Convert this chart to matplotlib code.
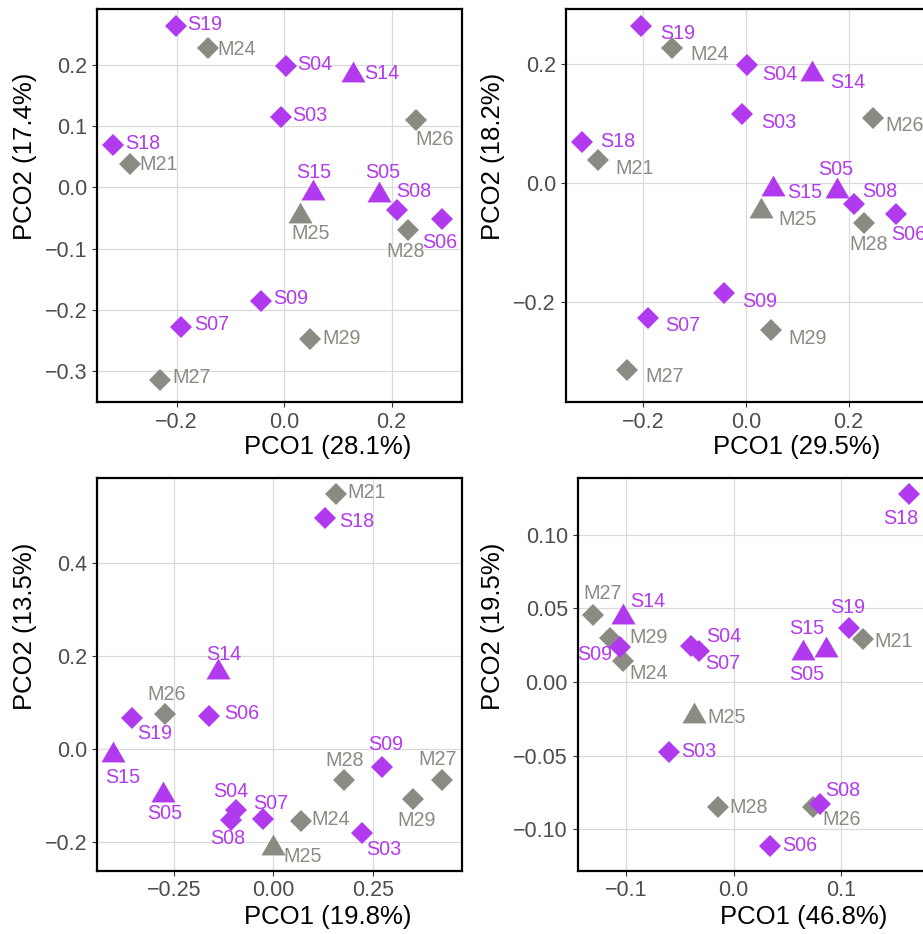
import numpy as np
import matplotlib
matplotlib.use("Agg")
import matplotlib.pyplot as plt
from matplotlib.ticker import FixedLocator, FuncFormatter

plt.rcParams['font.family'] = ['Liberation Sans', 'DejaVu Sans']

# sample names (same order in every panel)
samples = ["S03", "S04", "S05", "S06", "S07", "S08", "S09", "S14", "S15", "S18", "S19",
           "M21", "M24", "M25", "M26", "M27", "M28", "M29"]
triangles = ["S05", "S14", "S15", "M25"]

# panel A
pco1_a = [-0.006, 0.004, 0.176, 0.293, -0.191, 0.211, -0.042, 0.129, 0.053, -0.318, -0.201,
          -0.286, -0.142, 0.030, 0.246, -0.230, 0.230, 0.049]
pco2_a = [0.116, 0.199, -0.013, -0.052, -0.228, -0.037, -0.185, 0.184, -0.009, 0.069, 0.264,
          0.039, 0.229, -0.047, 0.110, -0.315, -0.069, -0.248]
# panel B
pco1_b = [-0.007, 0.003, 0.177, 0.293, -0.191, 0.211, -0.0435, 0.129, 0.052, -0.319, -0.204,
          -0.289, -0.1435, 0.029, 0.247, -0.232, 0.231, 0.048]
pco2_b = [0.115, 0.197, -0.014, -0.052, -0.227, -0.036, -0.185, 0.182, -0.010, 0.069, 0.264,
          0.038, 0.227, -0.048, 0.109, -0.315, -0.068, -0.248]
# panel C
pco1_c = [0.224, -0.094, -0.276, -0.161, -0.025, -0.107, 0.273, -0.140, -0.403, 0.130, -0.355,
          0.157, 0.069, 0.000, -0.273, 0.424, 0.178, 0.351]
pco2_c = [-0.181, -0.132, -0.100, 0.071, -0.151, -0.153, -0.039, 0.164, -0.014, 0.495, 0.065,
          0.547, -0.156, -0.214, 0.075, -0.067, -0.067, -0.108]
# panel D
pco1_d = [-0.0607, -0.040, 0.086, 0.0343, -0.032, 0.0804, -0.106, -0.103, 0.065, 0.164, 0.1075,
          0.1206, -0.103, -0.0368, 0.0738, -0.131, -0.0146, -0.115]
pco2_d = [-0.0473, 0.0247, 0.022, -0.1112, 0.021, -0.0829, 0.0236, 0.044, 0.0195, 0.1275, 0.0365,
          0.0292, 0.0143, -0.0229, -0.0847, 0.0455, -0.0847, 0.030]

pct1 = ["28.1%", "29.5%", "19.8%", "46.8%"]
pct2 = ["17.4%", "18.2%", "13.5%", "19.5%"]

# label offsets in pixels (right, up), copied from the repel layout
off_a = {"S19": (29, 2), "M24": (29, -2), "S04": (29, 1), "S14": (28, 2), "S03": (29, 1),
         "M26": (18, -19), "S18": (30, 2), "M21": (28, -1), "S15": (1, 20), "S05": (4, 23),
         "M25": (10, -17), "S08": (16, 19), "S06": (-2, -23), "M28": (-2, -22), "S09": (29, 2),
         "S07": (30, 2), "M29": (31, 1), "M27": (31, 2)}
off_b = {"S19": (36, -8), "M24": (37, -7), "S04": (32, -9), "S14": (36, -8), "S03": (36, -8),
         "M26": (32, -8), "S18": (36, 0), "M21": (37, -8), "S15": (32, -4), "S05": (-1, 21),
         "M25": (37, -8), "S08": (25, 13), "S06": (12, -21), "M28": (4, -21), "S09": (36, -9),
         "S07": (35, -8), "M29": (37, -8), "M27": (38, -7)}
off_c = {"M21": (31, 2), "S18": (32, -3), "S14": (6, 18), "M26": (2, 19), "S19": (23, -15),
         "S06": (32, 2), "S15": (10, -22), "S05": (1, -18), "S04": (-5, 19), "S08": (-3, -19),
         "S07": (7, 16), "M24": (30, 2), "M25": (29, -8), "S03": (21, -17), "M28": (0, 19),
         "S09": (4, 22), "M29": (4, -21), "M27": (-4, 20)}
off_d = {"S18": (-9, -24), "M27": (9, 22), "S14": (25, 16), "M29": (38, 0), "S09": (-25, -7),
         "M24": (25, -13), "S04": (33, 9), "S07": (23, -12), "S15": (3, 25), "S05": (-19, -25),
         "S19": (-1, 21), "M21": (31, -2), "M25": (32, -2), "S03": (30, 0), "M28": (31, -1),
         "M26": (29, -13), "S08": (23, 14), "S06": (29, 0)}

purple = "#B23AEE"
grey = "#8B8B83"
tri = [(0, 1), (-0.866, -0.5), (0.866, -0.5)]

fig = plt.figure(figsize=(9.23, 9.34), dpi=100)
W, H = 923.0, 934.0

def box(l, t, r, b):
    return [l / W, 1 - b / H, (r - l) / W, (b - t) / H]

panels = [
    (pco1_a, pco2_a, off_a, box(97, 9, 462, 402), (-0.348, 0.331), (-0.351, 0.292),
     [-0.2, 0, 0.2], [-0.3, -0.2, -0.1, 0, 0.1, 0.2], "%.1f", "%.1f", (0.633, -0.114), (-0.197, 0.626)),
    (pco1_b, pco2_b, off_b, box(565.7, 9, 930.7, 402), (-0.351, 0.360), (-0.369, 0.292),
     [-0.2, 0, 0.2], [-0.2, 0, 0.2], "%.1f", "%.1f", (0.633, -0.114), (-0.198, 0.626)),
    (pco1_c, pco2_c, off_c, box(97, 478.3, 462, 870.7), (-0.443, 0.474), (-0.262, 0.581),
     [-0.25, 0, 0.25], [-0.2, 0, 0.2, 0.4], "%.2f", "%.1f", (0.633, -0.117), (-0.197, 0.624)),
    (pco1_d, pco2_d, off_d, box(577.7, 478.3, 930.7, 870.7), (-0.1455, 0.184), (-0.1282, 0.1384),
     [-0.1, 0, 0.1], [-0.10, -0.05, 0, 0.05, 0.10], "%.1f", "%.2f", (0.639, -0.117), (-0.239, 0.624)),
]

for i, (xs, ys, offs, pos, xl, yl, xt, yt, xf, yf, xlab_pos, ylab_pos) in enumerate(panels):
    ax = fig.add_axes(pos)
    ax.set_xlim(*xl)
    ax.set_ylim(*yl)
    ax.xaxis.set_major_locator(FixedLocator(xt))
    ax.yaxis.set_major_locator(FixedLocator(yt))
    ax.xaxis.set_major_formatter(FuncFormatter(lambda v, p, f=xf: (f % v).replace("-", "\u2212")))
    ax.yaxis.set_major_formatter(FuncFormatter(lambda v, p, f=yf: (f % v).replace("-", "\u2212")))
    ax.grid(True, color="#DADADA", linewidth=0.9)
    ax.set_axisbelow(True)
    for s in ax.spines.values():
        s.set_linewidth(1.6)
        s.set_color("black")
    ax.tick_params(length=3.5, width=0.8, color="#333333", labelcolor="#4D4D4D",
                   labelsize=15.5, pad=3.5)

    # M samples first, S on top
    order = [k for k, n in enumerate(samples) if n.startswith("M")] + \
            [k for k, n in enumerate(samples) if n.startswith("S")]
    for k in order:
        n = samples[k]
        col = purple if n.startswith("S") else grey
        if n in triangles:
            ax.plot(xs[k], ys[k], linestyle="none", marker=tri, ms=20, color=col, mew=0)
        else:
            ax.plot(xs[k], ys[k], linestyle="none", marker="D", ms=11, color=col, mew=0)
    for k, n in enumerate(samples):
        col = purple if n.startswith("S") else grey
        dx, dy = offs[n]
        ax.annotate(n, (xs[k], ys[k]), xytext=(dx, dy), textcoords="offset pixels",
                    ha="center", va="center", fontsize=14.2, color=col)

    ax.set_xlabel("PCO1 (%s)" % pct1[i], fontsize=18.5, va="center")
    ax.set_ylabel("PCO2 (%s)" % pct2[i], fontsize=18.5, va="center")
    ax.xaxis.set_label_coords(*xlab_pos)
    ax.yaxis.set_label_coords(*ylab_pos)

fig.savefig("out.png", dpi=100)
